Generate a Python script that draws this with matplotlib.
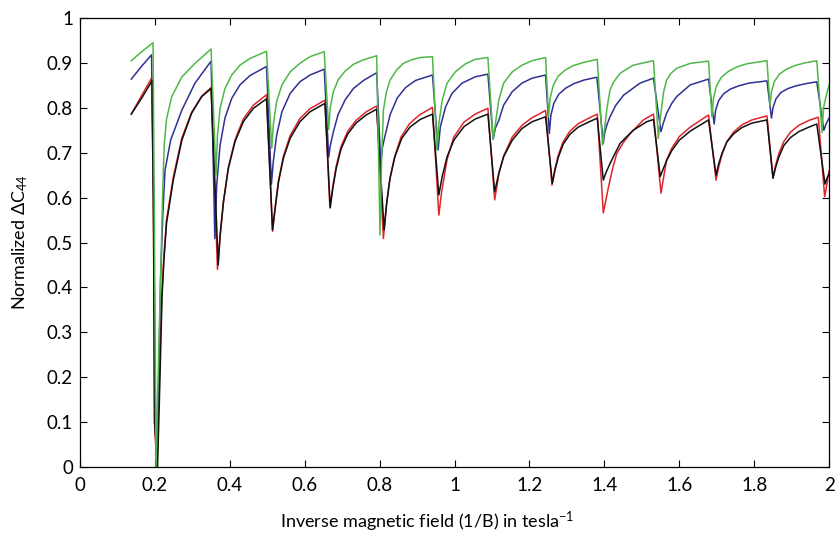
import matplotlib
matplotlib.use('Agg')
import matplotlib.pyplot as plt

# (1/B, normalized dC44), one list per trace
green = [(0.137, 0.905), (0.165, 0.925), (0.195, 0.945), (0.199, 0.50), (0.203, 0.0),
         (0.210, 0.25), (0.216, 0.45), (0.221, 0.62), (0.225, 0.72), (0.231, 0.775),
         (0.245, 0.825), (0.272, 0.869), (0.307, 0.899), (0.350, 0.931),
         (0.363, 0.650), (0.367, 0.739), (0.374, 0.799), (0.387, 0.843), (0.405, 0.873),
         (0.427, 0.895), (0.454, 0.910), (0.498, 0.926),
         (0.512, 0.710), (0.516, 0.762), (0.525, 0.814), (0.539, 0.851), (0.561, 0.880),
         (0.587, 0.899), (0.614, 0.914), (0.652, 0.925),
         (0.664, 0.752), (0.668, 0.800), (0.676, 0.835), (0.689, 0.862), (0.708, 0.882),
         (0.730, 0.897), (0.757, 0.907), (0.792, 0.916),
         (0.801, 0.517), (0.805, 0.680), (0.810, 0.795), (0.818, 0.835), (0.828, 0.862),
         (0.845, 0.884), (0.863, 0.899), (0.885, 0.907), (0.908, 0.912), (0.941, 0.914),
         (0.953, 0.706), (0.958, 0.765), (0.967, 0.817), (0.980, 0.855), (1.002, 0.880),
         (1.029, 0.898), (1.055, 0.908), (1.089, 0.912),
         (1.103, 0.730), (1.109, 0.765), (1.118, 0.817), (1.131, 0.855), (1.154, 0.880),
         (1.180, 0.895), (1.207, 0.905), (1.243, 0.912),
         (1.251, 0.780), (1.255, 0.821), (1.263, 0.849), (1.276, 0.870), (1.295, 0.884),
         (1.317, 0.894), (1.344, 0.901), (1.381, 0.908),
         (1.395, 0.717), (1.402, 0.765), (1.407, 0.800), (1.415, 0.840), (1.425, 0.858),
         (1.442, 0.877), (1.477, 0.895), (1.531, 0.905),
         (1.544, 0.732), (1.548, 0.770), (1.553, 0.802), (1.558, 0.835), (1.566, 0.862),
         (1.578, 0.877), (1.593, 0.888), (1.629, 0.899), (1.678, 0.904),
         (1.687, 0.780), (1.691, 0.820), (1.699, 0.848), (1.712, 0.868), (1.731, 0.881),
         (1.753, 0.891), (1.780, 0.898), (1.834, 0.905),
         (1.842, 0.804), (1.846, 0.836), (1.854, 0.859), (1.867, 0.875), (1.886, 0.886),
         (1.908, 0.894), (1.935, 0.900), (1.967, 0.905),
         (1.981, 0.745), (1.985, 0.800), (1.993, 0.830), (2.000, 0.851)]

blue = [(0.137, 0.864), (0.165, 0.893), (0.191, 0.918), (0.196, 0.60), (0.203, 0.0),
        (0.209, 0.15), (0.212, 0.28), (0.215, 0.416), (0.221, 0.56), (0.227, 0.661),
        (0.242, 0.728), (0.272, 0.795), (0.307, 0.855), (0.350, 0.904),
        (0.360, 0.509), (0.365, 0.628), (0.374, 0.717), (0.387, 0.777), (0.405, 0.821),
        (0.427, 0.851), (0.454, 0.872), (0.498, 0.892),
        (0.511, 0.630), (0.516, 0.680), (0.525, 0.739), (0.539, 0.791), (0.561, 0.832),
        (0.587, 0.858), (0.614, 0.873), (0.652, 0.886),
        (0.664, 0.690), (0.668, 0.715), (0.676, 0.745), (0.689, 0.785), (0.708, 0.818),
        (0.730, 0.843), (0.757, 0.861), (0.792, 0.878),
        (0.803, 0.673), (0.807, 0.710), (0.815, 0.740), (0.828, 0.785), (0.847, 0.822),
        (0.869, 0.845), (0.896, 0.861), (0.941, 0.873),
        (0.956, 0.706), (0.962, 0.758), (0.976, 0.802), (0.993, 0.832), (1.020, 0.855),
        (1.055, 0.869), (1.089, 0.875),
        (1.103, 0.730), (1.109, 0.755), (1.118, 0.772), (1.131, 0.806), (1.154, 0.836),
        (1.180, 0.855), (1.207, 0.866), (1.243, 0.873),
        (1.253, 0.743), (1.257, 0.783), (1.265, 0.810), (1.278, 0.830), (1.297, 0.844),
        (1.319, 0.854), (1.346, 0.862), (1.380, 0.868),
        (1.397, 0.721), (1.401, 0.745), (1.407, 0.763), (1.415, 0.780), (1.430, 0.805),
        (1.451, 0.828), (1.495, 0.855), (1.531, 0.866),
        (1.551, 0.747), (1.557, 0.765), (1.566, 0.788), (1.580, 0.810), (1.593, 0.825),
        (1.629, 0.851), (1.678, 0.864),
        (1.693, 0.764), (1.697, 0.795), (1.705, 0.816), (1.718, 0.831), (1.737, 0.842),
        (1.759, 0.849), (1.786, 0.855), (1.834, 0.860),
        (1.846, 0.777), (1.850, 0.800), (1.858, 0.820), (1.871, 0.834), (1.890, 0.843),
        (1.912, 0.849), (1.939, 0.854), (1.967, 0.858),
        (1.986, 0.750), (1.992, 0.765), (2.000, 0.777)]

red = [(0.137, 0.786), (0.165, 0.828), (0.191, 0.866), (0.196, 0.60), (0.199, 0.10), (0.205, 0.0),
       (0.210, 0.15), (0.215, 0.30), (0.219, 0.39), (0.224, 0.47), (0.231, 0.55),
       (0.249, 0.645), (0.272, 0.733), (0.298, 0.790), (0.325, 0.826), (0.350, 0.845),
       (0.367, 0.440), (0.374, 0.512), (0.383, 0.590), (0.396, 0.667), (0.414, 0.729),
       (0.436, 0.775), (0.463, 0.806), (0.498, 0.829),
       (0.514, 0.525), (0.521, 0.578), (0.530, 0.638), (0.543, 0.692), (0.561, 0.738),
       (0.587, 0.776), (0.614, 0.798), (0.654, 0.817),
       (0.667, 0.580), (0.675, 0.625), (0.684, 0.670), (0.697, 0.714), (0.715, 0.748),
       (0.737, 0.772), (0.764, 0.791), (0.792, 0.804),
       (0.810, 0.509), (0.817, 0.575), (0.826, 0.635), (0.839, 0.688), (0.857, 0.735),
       (0.879, 0.764), (0.906, 0.784), (0.941, 0.801),
       (0.958, 0.561), (0.965, 0.610), (0.972, 0.645), (0.980, 0.685), (0.998, 0.735),
       (1.025, 0.768), (1.055, 0.786), (1.089, 0.799),
       (1.107, 0.595), (1.113, 0.625), (1.118, 0.652), (1.131, 0.693), (1.154, 0.735),
       (1.180, 0.761), (1.207, 0.778), (1.243, 0.794),
       (1.260, 0.628), (1.267, 0.660), (1.276, 0.692), (1.289, 0.723), (1.307, 0.747),
       (1.329, 0.764), (1.356, 0.776), (1.381, 0.786),
       (1.397, 0.566), (1.404, 0.595), (1.411, 0.624), (1.422, 0.665), (1.433, 0.698),
       (1.450, 0.722), (1.469, 0.743), (1.504, 0.773), (1.531, 0.786),
       (1.551, 0.610), (1.557, 0.640), (1.566, 0.684), (1.580, 0.710), (1.600, 0.736),
       (1.629, 0.757), (1.678, 0.784),
       (1.698, 0.639), (1.705, 0.668), (1.714, 0.696), (1.727, 0.725), (1.745, 0.746),
       (1.767, 0.762), (1.794, 0.773), (1.834, 0.782),
       (1.850, 0.645), (1.857, 0.672), (1.866, 0.699), (1.879, 0.725), (1.897, 0.746),
       (1.919, 0.761), (1.946, 0.772), (1.971, 0.779),
       (1.988, 0.602), (1.994, 0.630), (2.000, 0.660)]

black = [(0.137, 0.786), (0.165, 0.822), (0.193, 0.861), (0.196, 0.60), (0.199, 0.10), (0.207, 0.0),
         (0.212, 0.15), (0.216, 0.28), (0.219, 0.38), (0.224, 0.46), (0.231, 0.543),
         (0.249, 0.639), (0.272, 0.728), (0.298, 0.788), (0.325, 0.825), (0.350, 0.843),
         (0.369, 0.450), (0.374, 0.517), (0.383, 0.591), (0.396, 0.665), (0.414, 0.725),
         (0.436, 0.769), (0.463, 0.799), (0.498, 0.820),
         (0.514, 0.528), (0.521, 0.576), (0.530, 0.635), (0.543, 0.688), (0.561, 0.732),
         (0.587, 0.769), (0.614, 0.791), (0.654, 0.810),
         (0.668, 0.577), (0.675, 0.621), (0.684, 0.665), (0.697, 0.709), (0.715, 0.742),
         (0.737, 0.766), (0.764, 0.784), (0.792, 0.797),
         (0.812, 0.528), (0.819, 0.590), (0.828, 0.645), (0.841, 0.692), (0.859, 0.732),
         (0.881, 0.757), (0.908, 0.774), (0.941, 0.786),
         (0.958, 0.606), (0.967, 0.647), (0.980, 0.691), (0.998, 0.728), (1.025, 0.758),
         (1.055, 0.775), (1.089, 0.786),
         (1.107, 0.613), (1.118, 0.654), (1.131, 0.691), (1.154, 0.728), (1.180, 0.754),
         (1.207, 0.769), (1.243, 0.780),
         (1.261, 0.632), (1.268, 0.661), (1.277, 0.690), (1.290, 0.719), (1.308, 0.741),
         (1.330, 0.757), (1.357, 0.768), (1.381, 0.777),
         (1.397, 0.639), (1.404, 0.655), (1.415, 0.676), (1.442, 0.721), (1.477, 0.750),
         (1.513, 0.769), (1.531, 0.774),
         (1.549, 0.647), (1.556, 0.662), (1.566, 0.682), (1.580, 0.705), (1.600, 0.728),
         (1.629, 0.748), (1.678, 0.773),
         (1.698, 0.650), (1.705, 0.675), (1.714, 0.699), (1.727, 0.724), (1.745, 0.742),
         (1.767, 0.756), (1.794, 0.766), (1.834, 0.773),
         (1.850, 0.643), (1.857, 0.667), (1.866, 0.691), (1.879, 0.716), (1.897, 0.734),
         (1.919, 0.747), (1.946, 0.757), (1.967, 0.764),
         (1.989, 0.630), (1.995, 0.645), (2.000, 0.653)]

x_ticks = [0, 0.2, 0.4, 0.6, 0.8, 1, 1.2, 1.4, 1.6, 1.8, 2]
x_labels = ['0', '0.2', '0.4', '0.6', '0.8', '1', '1.2', '1.4', '1.6', '1.8', '2']
y_ticks = [0, 0.1, 0.2, 0.3, 0.4, 0.5, 0.6, 0.7, 0.8, 0.9, 1]
y_labels = ['0', '0.1', '0.2', '0.3', '0.4', '0.5', '0.6', '0.7', '0.8', '0.9', '1']

plt.rcParams['font.family'] = ['Lato', 'DejaVu Sans']
plt.rcParams['mathtext.fontset'] = 'custom'
plt.rcParams['mathtext.rm'] = 'Lato'
plt.rcParams['mathtext.it'] = 'Lato:italic'

fig = plt.figure(figsize=(8.35, 5.33), dpi=100)
ax = fig.add_axes([0.0958, 0.1238, 0.8972, 0.8424])

for pts, col in [(red, '#e0242a'), (blue, '#2e3192'), (black, '#111111'), (green, '#4fb848')]:
    xs = [p[0] for p in pts]
    ys = [p[1] for p in pts]
    ax.plot(xs, ys, color=col, lw=1.1)

ax.set_xlim(0, 2)
ax.set_ylim(0, 1)
ax.set_xticks(x_ticks)
ax.set_xticklabels(x_labels)
ax.set_yticks(y_ticks)
ax.set_yticklabels(y_labels)
ax.tick_params(direction='in', top=True, right=True, length=5, labelsize=13.5)
ax.tick_params(axis='x', pad=7)
ax.tick_params(axis='y', pad=5)
for s in ax.spines.values():
    s.set_linewidth(0.9)
ax.set_xlabel('Inverse magnetic field (1/B) in tesla$^{-1}$', fontsize=13)
ax.xaxis.set_label_coords(0.463, -0.095)
ax.set_ylabel('Normalized $\\Delta$C$_{44}$', fontsize=13, labelpad=12)

fig.savefig('out.png', dpi=100)
